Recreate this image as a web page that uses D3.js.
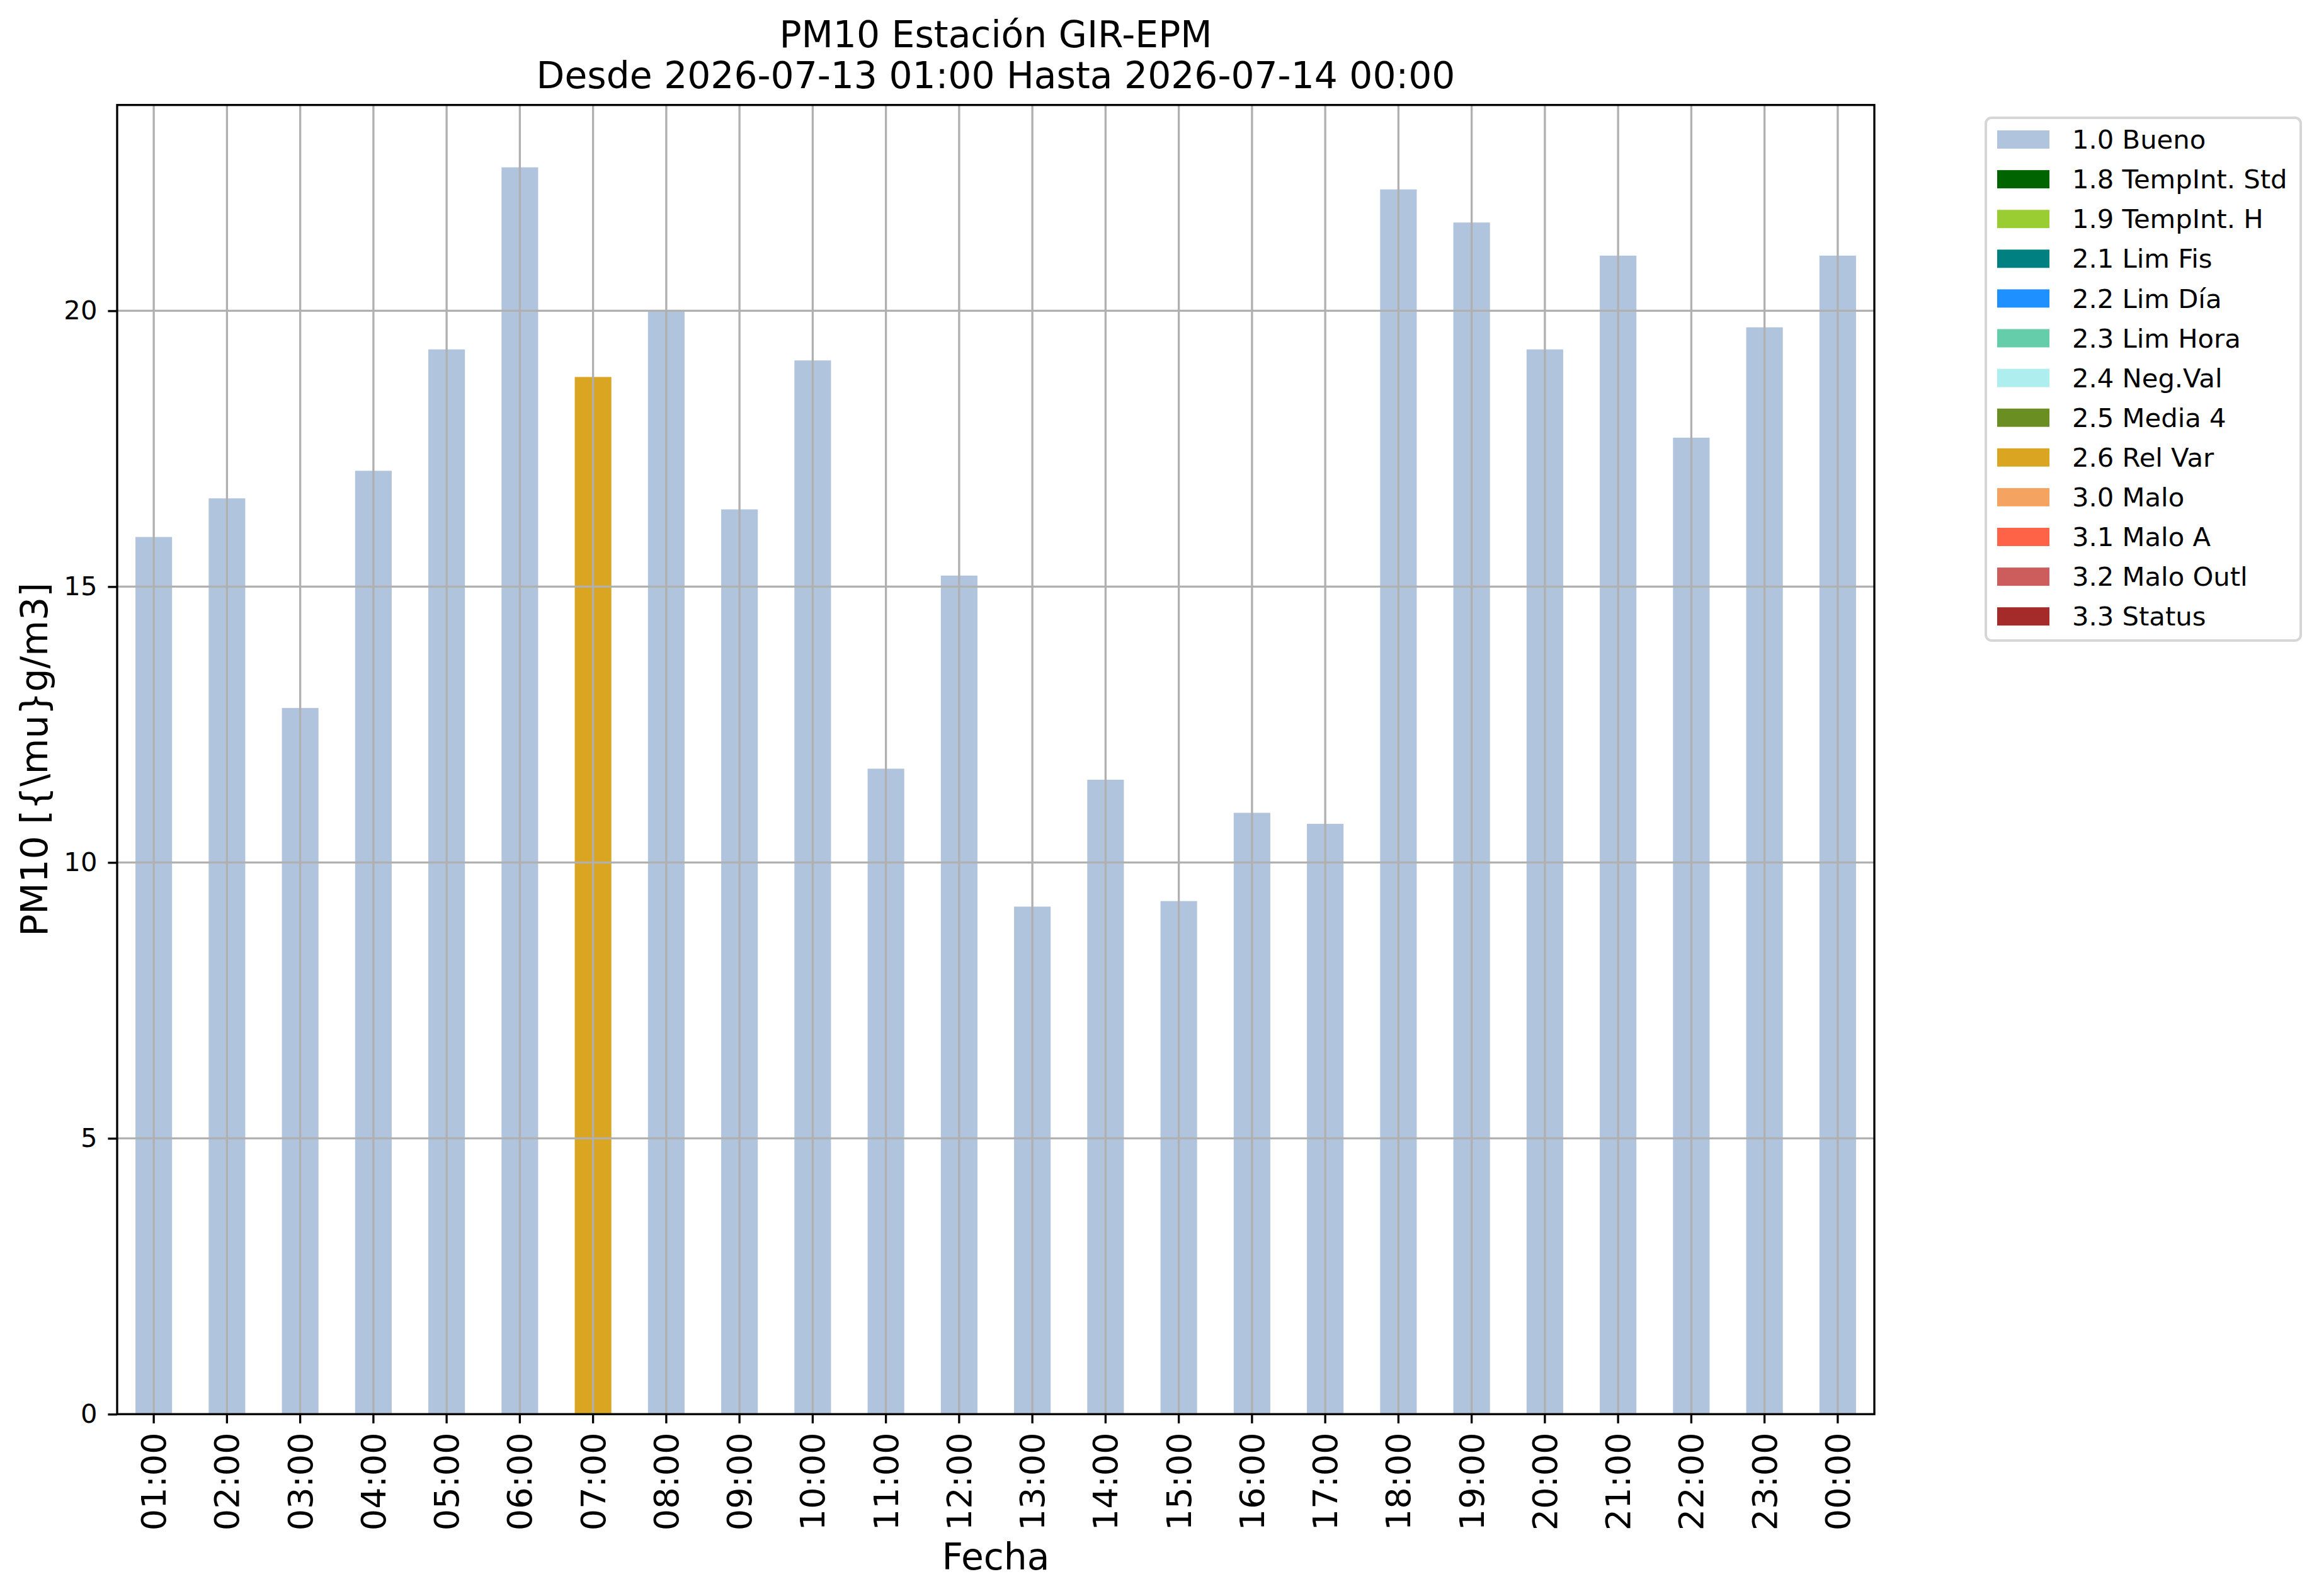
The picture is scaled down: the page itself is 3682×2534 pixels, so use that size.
<!DOCTYPE html>
<html>
<head>
<meta charset="utf-8">
<script src="https://cdn.jsdelivr.net/npm/d3@7"></script>
<style>
  body { margin: 0; background: #fff; }
  text { font-family: "DejaVu Sans", sans-serif; }
</style>
</head>
<body>
<div id="chart"></div>
<script>
// PM10 hourly bars, coloured by quality flag
var width = 3682, height = 2534;

// data
var hours = ["01:00","02:00","03:00","04:00","05:00","06:00","07:00","08:00","09:00","10:00","11:00","12:00",
             "13:00","14:00","15:00","16:00","17:00","18:00","19:00","20:00","21:00","22:00","23:00","00:00"];
var pm10 = [15.9, 16.6, 12.8, 17.1, 19.3, 22.6, 18.8, 20.0, 16.4, 19.1, 11.7, 15.2,
            9.2, 11.5, 9.3, 10.9, 10.7, 22.2, 21.6, 19.3, 21.0, 17.7, 19.7, 21.0];
var hourFlags = ["1.0","1.0","1.0","1.0","1.0","1.0","2.6","1.0","1.0","1.0","1.0","1.0",
                 "1.0","1.0","1.0","1.0","1.0","1.0","1.0","1.0","1.0","1.0","1.0","1.0"];
var flagLabels = ["1.0 Bueno","1.8 TempInt. Std","1.9 TempInt. H","2.1 Lim Fis","2.2 Lim Día","2.3 Lim Hora",
                  "2.4 Neg.Val","2.5 Media 4","2.6 Rel Var","3.0 Malo","3.1 Malo A","3.2 Malo Outl","3.3 Status"];
var flagColors = ["#B0C4DE","#006400","#9ACD32","#008080","#1E90FF","#66CDAA",
                  "#AFEEEE","#6B8E23","#DAA520","#F4A460","#FF6347","#CD5C5C","#A52A2A"];
var yTicks = [0, 5, 10, 15, 20];

var colors = d3.scaleOrdinal().domain(flagLabels).range(flagColors);

// one row per hour, value only in its flag column (like a pandas stacked bar)
var rows = hours.map(function(h, i) {
    var row = { hour: h };
    flagLabels.forEach(function(f) {
        row[f] = (f.split(" ")[0] === hourFlags[i]) ? pm10[i] : 0;
    });
    return row;
});
var series = d3.stack().keys(flagLabels)(rows);

var plot = { left: 186, right: 2976, top: 166.7, bottom: 2245.3 };
var lw = 3.33;

var svg = d3.select("#chart").append("svg")
        .attr("width", width).attr("height", height);

var x = d3.scaleBand().domain(hours)
        .range([plot.left, plot.right])
        .paddingInner(0.5).paddingOuter(0.25);
var y = d3.scaleLinear()
        .domain([0, d3.max(pm10) * 1.05])
        .range([plot.bottom, plot.top]);

// bars
svg.append("g").selectAll("g").data(series).enter().append("g")
    .attr("fill", function(d) { return colors(d.key); })
    .selectAll("rect").data(function(d) { return d; }).enter()
    .filter(function(d) { return d[1] - d[0] > 0; })
    .append("rect")
    .attr("x", function(d) { return x(d.data.hour); })
    .attr("width", x.bandwidth())
    .attr("y", function(d) { return y(d[1]); })
    .attr("height", function(d) { return y(d[0]) - y(d[1]); });

// grid on top of the bars
var grid = svg.append("g").attr("stroke", "#b0b0b0").attr("stroke-width", lw);
grid.selectAll(".vg").data(hours).enter().append("line")
    .attr("x1", function(d) { return x(d) + x.bandwidth() / 2; })
    .attr("x2", function(d) { return x(d) + x.bandwidth() / 2; })
    .attr("y1", plot.top).attr("y2", plot.bottom);
grid.selectAll(".hg").data(yTicks).enter().append("line")
    .attr("x1", plot.left).attr("x2", plot.right)
    .attr("y1", function(d) { return y(d); })
    .attr("y2", function(d) { return y(d); });

// axes
var xAxis = svg.append("g")
    .attr("transform", "translate(0," + plot.bottom + ")")
    .call(d3.axisBottom(x).tickSize(14.6).tickSizeOuter(0));
xAxis.select(".domain").remove();
xAxis.selectAll("line").attr("stroke", "#000").attr("stroke-width", lw);
xAxis.selectAll("text")
    .attr("y", 0).attr("x", 0).attr("dy", "0.35em")
    .attr("transform", "translate(0,29.2) rotate(-90)")
    .style("text-anchor", "end")
    .style("font-size", "54px").attr("fill", "#000");

var yAxis = svg.append("g")
    .attr("transform", "translate(" + plot.left + ",0)")
    .call(d3.axisLeft(y).tickValues(yTicks).tickFormat(d3.format("d"))
          .tickSize(14.6).tickSizeOuter(0).tickPadding(17));
yAxis.select(".domain").remove();
yAxis.selectAll("line").attr("stroke", "#000").attr("stroke-width", lw);
yAxis.selectAll("text").style("font-size", "41.7px").attr("fill", "#000");

// frame
svg.append("rect")
    .attr("x", plot.left).attr("y", plot.top)
    .attr("width", plot.right - plot.left).attr("height", plot.bottom - plot.top)
    .attr("fill", "none").attr("stroke", "#000").attr("stroke-width", lw);

// titles and labels
var cx = (plot.left + plot.right) / 2;
svg.append("text").attr("x", cx).attr("y", 75).attr("text-anchor", "middle")
    .style("font-size", "58.3px").text("PM10 Estación GIR-EPM");
svg.append("text").attr("x", cx).attr("y", 140).attr("text-anchor", "middle")
    .style("font-size", "58.3px").text("Desde 2026-07-13 01:00 Hasta 2026-07-14 00:00");
svg.append("text").attr("x", cx).attr("y", 2492).attr("text-anchor", "middle")
    .style("font-size", "58.3px").text("Fecha");
svg.append("text")
    .attr("transform", "translate(75," + ((plot.top + plot.bottom) / 2) + ") rotate(-90)")
    .attr("text-anchor", "middle")
    .style("font-size", "58.3px").text("PM10 [{\\mu}g/m3]");

// legend
var legendBox = svg.append("g").attr("transform", "translate(3153,187)");
legendBox.append("rect")
    .attr("width", 500).attr("height", 830).attr("rx", 9).attr("ry", 9)
    .attr("fill", "#fff").attr("fill-opacity", 0.8)
    .attr("stroke", "#d6d6d6").attr("stroke-width", 4);
var legend = legendBox.selectAll(".legends").data(flagLabels).enter().append("g")
    .classed("legends", true)
    .attr("transform", function(d, i) { return "translate(18," + (20 + i * 63.1) + ")"; });
legend.append("rect").attr("width", 83).attr("height", 29)
    .attr("fill", function(d) { return colors(d); });
legend.append("text").attr("x", 119).attr("y", 14.5).attr("dy", "0.35em")
    .style("font-size", "41.7px").text(function(d) { return d; });
</script>
</body>
</html>
